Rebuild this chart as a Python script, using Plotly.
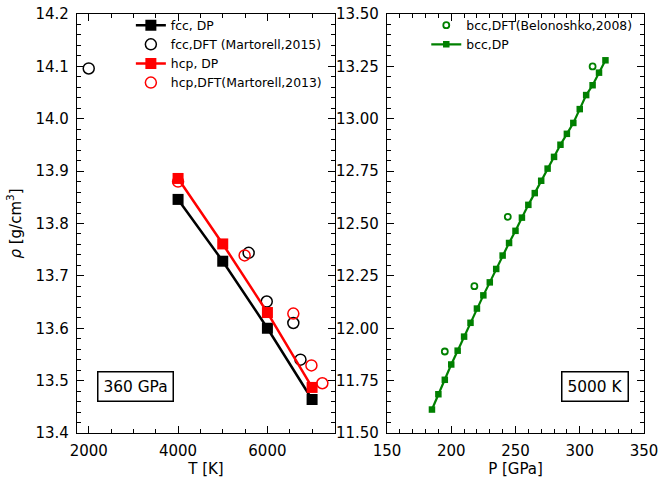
import plotly.graph_objects as go

# ---- left panel data (360 GPa) ----
T_dp = [4000, 5000, 6000, 7000]
rho_fcc_dp = [13.846, 13.728, 13.600, 13.464]
rho_hcp_dp = [13.886, 13.761, 13.630, 13.487]
T_fcc_dft = [2000, 5580, 5985, 6580, 6740]
rho_fcc_dft = [14.096, 13.744, 13.651, 13.610, 13.540]
T_hcp_dft = [4000, 5490, 6580, 6985, 7230]
rho_hcp_dft = [13.880, 13.739, 13.628, 13.529, 13.495]

# ---- right panel data (5000 K) ----
P_bcc_dp = [185, 190, 195, 200, 205, 210, 215, 220, 225, 230, 235, 240, 245, 250,
            255, 260, 265, 270, 275, 280, 285, 290, 295, 300, 305, 310, 315, 320]
rho_bcc_dp = [11.612, 11.685, 11.754, 11.827, 11.893, 11.960, 12.026, 12.094, 12.157,
              12.219, 12.283, 12.347, 12.407, 12.465, 12.528, 12.589, 12.645, 12.704,
              12.762, 12.818, 12.876, 12.928, 12.980, 13.046, 13.113, 13.160, 13.220, 13.279]
P_bcc_dft = [195, 218, 244, 310]
rho_bcc_dft = [11.889, 12.201, 12.532, 13.250]

FONT = "DejaVu Sans"
fig = go.Figure()

fig.add_trace(go.Scatter(x=T_dp, y=rho_fcc_dp, mode="lines+markers", name="fcc, DP",
                         line=dict(color="black", width=2.5),
                         marker=dict(symbol="square", size=11, color="black"),
                         xaxis="x", yaxis="y", legend="legend"))
fig.add_trace(go.Scatter(x=T_fcc_dft, y=rho_fcc_dft, mode="markers",
                         name="fcc,DFT (Martorell,2015)",
                         marker=dict(symbol="circle-open", size=11, color="black",
                                     line=dict(width=1.5)),
                         xaxis="x", yaxis="y", legend="legend"))
fig.add_trace(go.Scatter(x=T_dp, y=rho_hcp_dp, mode="lines+markers", name="hcp, DP",
                         line=dict(color="red", width=2.5),
                         marker=dict(symbol="square", size=11, color="red"),
                         xaxis="x", yaxis="y", legend="legend"))
fig.add_trace(go.Scatter(x=T_hcp_dft, y=rho_hcp_dft, mode="markers",
                         name="hcp,DFT(Martorell,2013)",
                         marker=dict(symbol="circle-open", size=11, color="red",
                                     line=dict(width=1.5)),
                         xaxis="x", yaxis="y", legend="legend"))

fig.add_trace(go.Scatter(x=P_bcc_dft, y=rho_bcc_dft, mode="markers",
                         name="bcc,DFT(Belonoshko,2008)",
                         marker=dict(symbol="circle-open", size=6, color="green",
                                     line=dict(width=1.8)),
                         xaxis="x2", yaxis="y2", legend="legend2"))
fig.add_trace(go.Scatter(x=P_bcc_dp, y=rho_bcc_dp, mode="lines+markers", name="bcc,DP",
                         line=dict(color="green", width=2.2),
                         marker=dict(symbol="square", size=6.5, color="green"),
                         xaxis="x2", yaxis="y2", legend="legend2"))

ax_common = dict(showline=True, linecolor="black", linewidth=1.3, mirror="ticks",
                 ticks="inside", ticklen=7, tickwidth=1.2, tickcolor="black",
                 showgrid=False, zeroline=False, automargin=False,
                 tickfont=dict(family=FONT, size=15, color="black"))
minor_common = dict(ticks="inside", ticklen=4, tickwidth=1, tickcolor="black")

fig.update_layout(
    template="none",
    width=659, height=481,
    margin=dict(l=77, r=15, t=11, b=48, pad=0),
    paper_bgcolor="white", plot_bgcolor="white",
    font=dict(family=FONT, color="black"),
    xaxis=dict(domain=[0.0, 0.455], range=[1737.5, 7512.5],
               tickvals=[2000, 4000, 6000], ticklabelstandoff=4,
               minor=dict(dtick=500, tick0=0, **minor_common),
               title=dict(text="T [K]", font=dict(family=FONT, size=15), standoff=3),
               anchor="y", **ax_common),
    yaxis=dict(domain=[0, 1], range=[13.4, 14.2], dtick=0.1, tickformat=".1f",
               ticklabelstandoff=4,
               minor=dict(dtick=0.02, tick0=13.4, **minor_common),
               title=dict(text="<i>ρ</i> [g/cm<sup>3</sup>]", font=dict(family=FONT, size=15), standoff=10),
               anchor="x", **ax_common),
    xaxis2=dict(domain=[0.5467, 1.0], range=[150, 350], dtick=50, ticklabelstandoff=4,
                minor=dict(dtick=10, tick0=150, **minor_common),
                title=dict(text="P [GPa]", font=dict(family=FONT, size=15), standoff=3),
                anchor="y2", **ax_common),
    yaxis2=dict(domain=[0, 1], range=[11.5, 13.5], dtick=0.25, tickformat=".2f",
                ticklabelstandoff=4,
                minor=dict(dtick=0.05, tick0=11.5, **minor_common),
                anchor="x2", **ax_common),
    legend=dict(x=0.095, y=1.008, xanchor="left", yanchor="top",
                bgcolor="rgba(0,0,0,0)", borderwidth=0,
                font=dict(family=FONT, size=12.4), tracegroupgap=0),
    legend2=dict(x=0.616, y=1.008, xanchor="left", yanchor="top",
                 bgcolor="rgba(0,0,0,0)", borderwidth=0,
                 font=dict(family=FONT, size=12.4), tracegroupgap=0),
    showlegend=True,
)

fig.add_annotation(text="360 GPa", xref="x", yref="y", x=3058, y=13.488,
                   showarrow=False, font=dict(family=FONT, size=15.4, color="black"),
                   width=64, height=18,
                   bordercolor="black", borderwidth=1.5, borderpad=5, bgcolor="white")
fig.add_annotation(text="5000 K", xref="x2", yref="y2", x=311.9, y=11.72,
                   showarrow=False, font=dict(family=FONT, size=15.4, color="black"),
                   width=55, height=18,
                   bordercolor="black", borderwidth=1.5, borderpad=5, bgcolor="white")

fig.write_html("out.html",
               post_script="document.body.style.margin='0';document.body.style.padding='0';")
